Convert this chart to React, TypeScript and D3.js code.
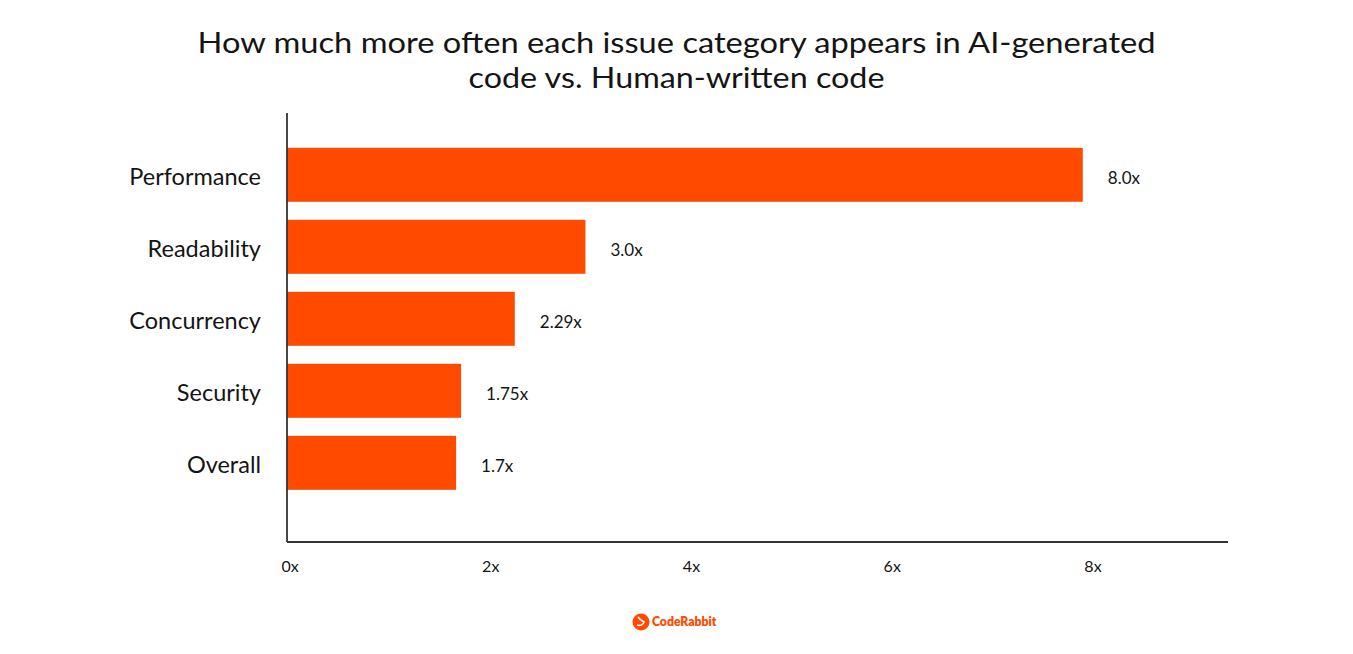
import * as d3 from "d3";

const categories = ["Performance", "Readability", "Concurrency", "Security", "Overall"];
const values = [8.0, 3.0, 2.29, 1.75, 1.7];
const valueLabels = ["8.0x", "3.0x", "2.29x", "1.75x", "1.7x"];
const ticks = [0, 2, 4, 6, 8];
const titleLines = [
  "How much more often each issue category appears in AI-generated",
  "code vs. Human-written code",
];

const W = 1353;
const H = 654;
const FONT = "Lato, 'Open Sans', sans-serif";
const ORANGE = "#FF4A00";
const INK = "#141414";

const x = d3.scaleLinear().domain([0, 9.46]).range([287, 1228]);
const y = d3.scaleBand<string>()
  .domain(categories)
  .range([113, 542])
  .paddingInner(0.25)
  .paddingOuter(0.604)
  .align(0.4);

export default function App() {
  const [x0, x1] = x.range();
  const [y0, y1] = y.range();
  return (
    <svg
      width={W}
      height={H}
      viewBox={`0 0 ${W} ${H}`}
      style={{ position: "fixed", left: 0, top: 0, background: "#fff" }}
      fontFamily={FONT}
    >
      {/* title */}
      {titleLines.map((t, i) => (
        <text
          key={t}
          x={W / 2}
          y={53 + i * 35}
          textAnchor="middle"
          fontSize={29}
          fontWeight={400}
          fill={INK}
          textLength={i === 0 ? 958 : 416}
          lengthAdjust="spacingAndGlyphs"
        >
          {t}
        </text>
      ))}

      {/* bars */}
      {categories.map((c, i) => {
        const cy = (y(c) ?? 0) + y.bandwidth() / 2;
        return (
          <g key={c}>
            <rect
              x={x(0)}
              y={y(c)}
              width={x(values[i]) - x(0)}
              height={y.bandwidth()}
              fill={ORANGE}
            />
            <text
              x={x0 - 26}
              y={cy + 2}
              dy="0.35em"
              textAnchor="end"
              fontSize={23.5}
              fill={INK}
            >
              {c}
            </text>
            <text
              x={x(values[i]) + 25}
              y={cy + 3}
              dy="0.35em"
              fontSize={17}
              fill={INK}
            >
              {valueLabels[i]}
            </text>
          </g>
        );
      })}

      {/* axes */}
      <line x1={x0} x2={x0} y1={y0} y2={y1} stroke="#333" strokeWidth={1.8} />
      <line x1={x0} x2={x1} y1={y1} y2={y1} stroke="#333" strokeWidth={1.8} />
      {ticks.map((t) => (
        <text
          key={t}
          x={x(t) + 3 + t * 0.9}
          y={572}
          textAnchor="middle"
          fontSize={16}
          fill={INK}
        >
          {t}x
        </text>
      ))}

      {/* logo */}
      <g transform="translate(641,622)">
        <circle r={8.5} fill={ORANGE} />
        <path d="M-3,-5 C-1,-2 1,-1 3,0 C2,3 -1,4 -4,3" stroke="#fff" strokeWidth={1.6} fill="none" />
        <text x={11} y={0} dy="0.35em" fontSize={12.2} fontWeight={800} fill={ORANGE}>
          CodeRabbit
        </text>
      </g>
    </svg>
  );
}
